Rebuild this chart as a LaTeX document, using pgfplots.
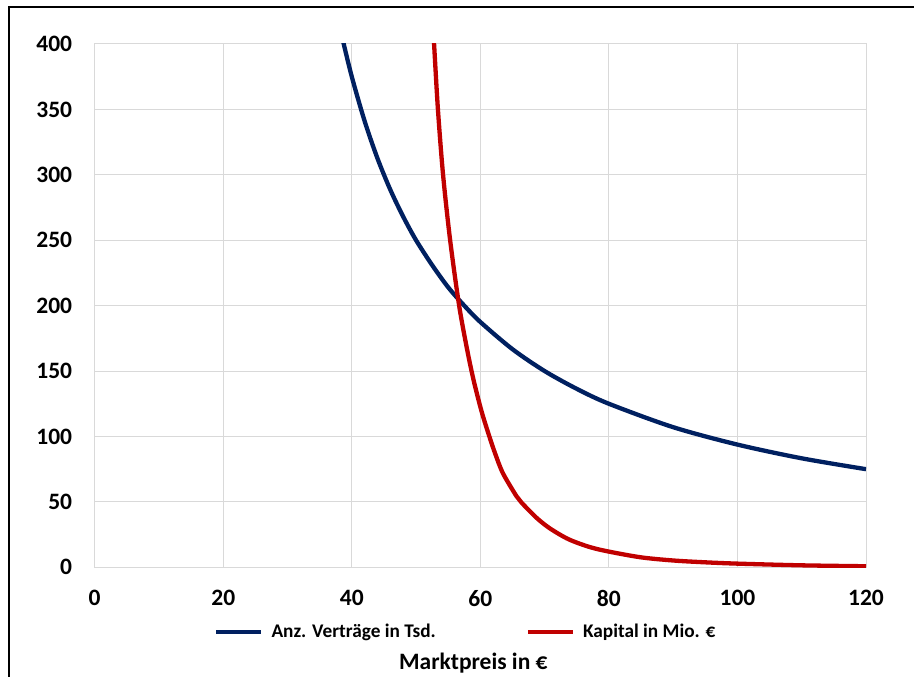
\documentclass[border=0pt]{standalone}
\usepackage{fontspec}
\setmainfont{Carlito}
\usepackage{pgfplots}
\pgfplotsset{compat=1.18}
\definecolor{navyc}{HTML}{002060}
\definecolor{redc}{HTML}{C00000}
\definecolor{gridc}{HTML}{D9D9D9}
\begin{document}
\begin{tikzpicture}
\useasboundingbox (0pt,0pt) rectangle (914pt,677pt);
\draw[line width=2.2pt] (9pt,-5pt) -- (9pt,670pt) -- (920pt,670pt);
\begin{axis}[
  at={(94.7pt,109.7pt)}, anchor=south west, scale only axis,
  width=771.3pt, height=523.3pt,
  xmin=0, xmax=120, ymin=0, ymax=400,
  xtick={0,20,...,120}, ytick={0,50,...,400},
  grid=major, major grid style={gridc, line width=1pt},
  axis line style={gridc, line width=1pt},
  tick style={draw=none},
  /pgf/number format/assume math mode=true,
  ticklabel style={font=\fontsize{23.5}{28}\selectfont\bfseries},
  xticklabel style={anchor=north, inner sep=0pt, yshift=-22.7pt},
  yticklabel style={anchor=east, inner sep=0pt, xshift=-22.4pt},
  xlabel={Marktpreis in €},
  xlabel style={at={(axis description cs:0.491,0)}, anchor=center, yshift=-95.5pt, font=\fontsize{23.5}{28}\selectfont\bfseries, inner sep=0pt},
  legend style={at={(axis description cs:0.1547,0)}, anchor=west, yshift=-64.4pt,
    draw=none, fill=none, legend columns=2, inner sep=0pt,
    font=\fontsize{19.3}{23}\selectfont\bfseries,
    nodes={inner sep=0pt},
    /tikz/every odd column/.append style={column sep=8pt},
    /tikz/every even column/.append style={column sep=90pt}},
  legend cell align=left,
  legend image code/.code={\draw[#1, line width=4.3pt] (0pt,0pt) -- (45pt,0pt);},
]
\addplot[navyc, line width=4.3pt, smooth, tension=0.5] coordinates {
(38.4,407.6)(38.6,403)(40,375)(42,341)(44,312.5)(46,288.5)(48,268)(50,250)(52.5,231)(55,214)(57.5,200)(60,187.5)(65,166.7)(70,150)(75,136.4)(80,125)(90,107.1)(100,93.8)(110,83.3)(120,75)
};
\addlegendentry{Anz. Verträge in Tsd.}
\addplot[redc, line width=4.3pt, smooth, tension=0.5] coordinates {
(52.6,415)(52.8,400)(53.4,350)(54.2,300)(55.3,250)(56.7,200)(58,165)(59,142)(60.2,119)(61.4,100)(62.3,87)(63.5,72)(65.6,54.5)(66.4,49.5)(68.7,38)(70.8,29.8)(73.7,21.5)(77,15.5)(80,12)(85,7.6)(90,5.2)(95,3.8)(100,2.8)(110,1.5)(120,0.8)
};
\addlegendentry{Kapital in Mio. €}
\end{axis}
\end{tikzpicture}
\end{document}
